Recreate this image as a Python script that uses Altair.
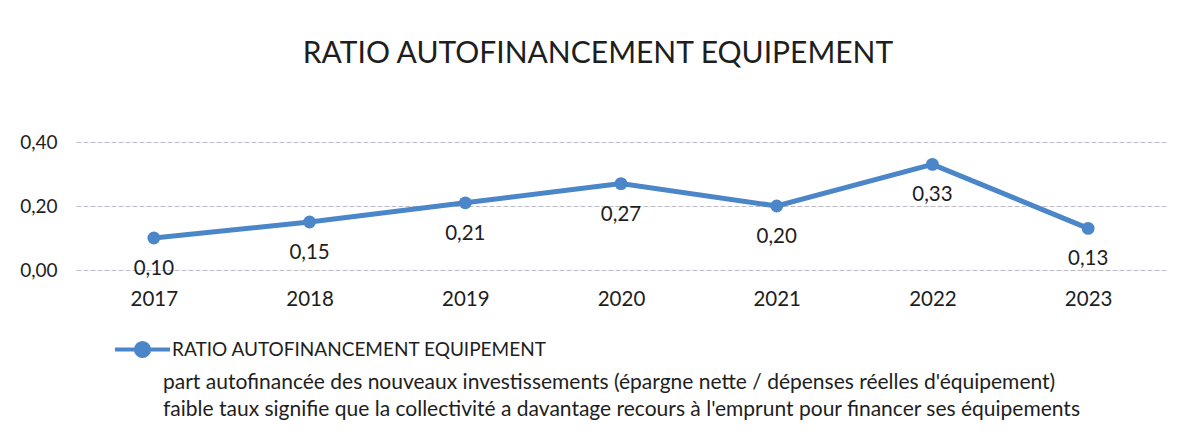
import altair as alt
import pandas as pd

years = ["2017", "2018", "2019", "2020", "2021", "2022", "2023"]
ratio = [0.10, 0.15, 0.21, 0.27, 0.20, 0.33, 0.13]
series_name = "RATIO AUTOFINANCEMENT EQUIPEMENT"
title_text = "RATIO AUTOFINANCEMENT EQUIPEMENT"
note_lines = [
    "part autofinancée des nouveaux investissements (épargne nette / dépenses réelles d'équipement)",
    "faible taux signifie que la collectivité a davantage recours à l'emprunt pour financer ses équipements",
]
y_ticks = [0.0, 0.2, 0.4]

BLUE = "#4a86c8"
TXT = "#1e1e1e"
FONT = "Lato"

df = pd.DataFrame({"year": years, "ratio": ratio, "series": [series_name] * len(years)})

x = alt.X("year:O", scale=alt.Scale(type="point", padding=0.5),
          axis=alt.Axis(title=None, labelAngle=0, ticks=False, domain=False,
                        labelPadding=19, labelFontSize=20.5, labelFont=FONT, labelColor=TXT))
y = alt.Y("ratio:Q", scale=alt.Scale(domain=[0, 0.4], nice=False),
          axis=alt.Axis(title=None, values=y_ticks, ticks=False, domain=False,
                        labelPadding=19, labelFontSize=19, labelFont=FONT, labelColor=TXT,
                        labelExpr="replace(format(datum.value, '.2f'), '.', ',')",
                        gridColor="#bcbcc6", gridDash=[5, 2], gridWidth=1))

sym = "M-1,0L1,0M0.24,0A0.24,0.24,0,1,1,-0.24,0A0.24,0.24,0,1,1,0.24,0Z"

line = alt.Chart(df).mark_line(strokeWidth=5).encode(
    x=x, y=y,
    color=alt.Color("series:N", scale=alt.Scale(range=[BLUE]),
                    legend=alt.Legend(title=None, orient="none", legendX=37, legendY=178,
                                      symbolType=sym, symbolSize=3025, symbolStrokeWidth=4,
                                      symbolFillColor=BLUE, symbolStrokeColor=BLUE,
                                      labelFontSize=19, labelFont=FONT, labelColor=TXT,
                                      labelOffset=0, labelLimit=1200, padding=0)),
)
pts = alt.Chart(df).mark_circle(size=165, opacity=1, color=BLUE).encode(x=x, y=y)
labels = alt.Chart(df).transform_calculate(
    lbl="replace(format(datum.ratio, '.2f'), '.', ',')"
).mark_text(dy=31, fontSize=20.5, font=FONT, color=TXT, baseline="middle").encode(
    x=x, y=y, text="lbl:N")

notes_df = pd.DataFrame({"t": note_lines})
note1 = alt.Chart(notes_df.iloc[[0]]).mark_text(align="left", baseline="middle", fontSize=21,
                                                font=FONT, color=TXT).encode(
    text="t:N", x=alt.value(87), y=alt.value(241))
note2 = alt.Chart(notes_df.iloc[[1]]).mark_text(align="left", baseline="middle", fontSize=21,
                                                font=FONT, color=TXT).encode(
    text="t:N", x=alt.value(87), y=alt.value(268))

chart = alt.layer(line, pts, labels, note1, note2).properties(
    width=1090, height=128,
    autosize=alt.AutoSizeParams(type="none"),
    padding={"left": 68, "top": 134, "right": 5, "bottom": 164},
    title=alt.TitleParams(title_text, fontSize=30, font=FONT, fontWeight="normal",
                          color=TXT, anchor="middle", offset=34, dx=-23, baseline="bottom"),
).configure(background="white").configure_view(stroke=None)

chart.save("out.html", embed_options={"renderer": "svg", "actions": False})
